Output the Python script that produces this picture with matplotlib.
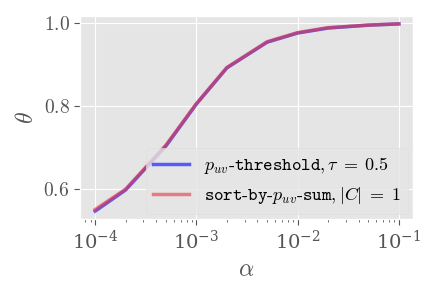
import numpy as np
import matplotlib
matplotlib.use("Agg")
import matplotlib.pyplot as plt

plt.style.use("ggplot")
plt.rcParams["mathtext.fontset"] = "cm"
plt.rcParams["font.family"] = "serif"
plt.rcParams["font.serif"] = ["DejaVu Serif"]

alpha = [1e-4, 2e-4, 5e-4, 1e-3, 2e-3, 5e-3, 1e-2, 2e-2, 5e-2, 1e-1]
theta_thresh = [0.547, 0.598, 0.704, 0.805, 0.892, 0.954, 0.976, 0.988, 0.995, 0.998]
theta_sort = [0.551, 0.600, 0.706, 0.806, 0.893, 0.955, 0.977, 0.989, 0.995, 0.998]

fig = plt.figure(figsize=(4.29, 2.92), dpi=100)
ax = fig.add_axes([80 / 429, 1 - 219 / 292, 333 / 429, 203 / 292])

ax.plot(alpha, theta_thresh, color="blue", alpha=0.6, lw=2.5,
        label=r"$p_{uv}\mathtt{\text{-}threshold},\tau\;=\;0.5$")
ax.plot(alpha, theta_sort, color="#e8363f", alpha=0.6, lw=2.5,
        label=r"$\mathtt{sort\text{-}by\text{-}}p_{uv}\mathtt{\text{-}sum},|C|\;=\;1$")

ax.set_xscale("log")
ax.set_xlim(10 ** -4.15, 10 ** -0.86)
ax.set_ylim(0.528, 1.017)
ax.set_yticks([0.6, 0.8, 1.0])
ax.set_yticklabels([r"$0.6$", r"$0.8$", r"$1.0$"])
ax.tick_params(labelsize=14, colors="#555555", length=4)
ax.tick_params(axis="x", which="minor", length=2.5)
ax.set_xlabel(r"$\alpha$", fontsize=17, color="#555555")
ax.set_ylabel(r"$\theta$", fontsize=17, color="#555555")
ax.grid(which="minor", visible=False)

leg = ax.legend(loc="lower right", fontsize=13, handlelength=2.0,
                borderaxespad=0.3, framealpha=0.8)
leg.get_frame().set_edgecolor("#dddddd")

fig.savefig("out.png", dpi=100)
